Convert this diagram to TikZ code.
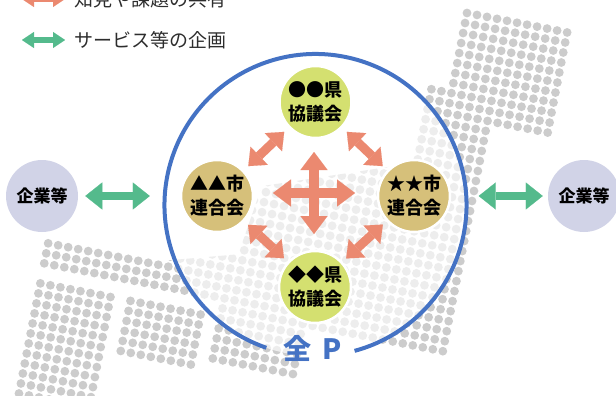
\documentclass[tikz,border=0pt]{standalone}
\usepackage{fontspec}
\setmainfont{Noto Sans CJK JP}
\usetikzlibrary{arrows.meta}
\definecolor{dotgray}{RGB}{204,204,204}
\definecolor{allblue}{RGB}{68,114,196}
\definecolor{orangearr}{RGB}{235,137,112}
\definecolor{greenarr}{RGB}{84,186,140}
\definecolor{kengreen}{RGB}{212,224,112}
\definecolor{shitan}{RGB}{214,192,122}
\definecolor{entlav}{RGB}{209,211,231}
\definecolor{legtext}{RGB}{45,45,45}
\begin{document}
\begin{tikzpicture}[x=1pt,y=-1pt,
  org/.style={circle, minimum size=72pt, inner sep=0pt, draw=white, line width=2.5pt,
    font=\bfseries\fontsize{18}{24}\selectfont, align=center, text=black},
  kenbox/.style={org, fill=kengreen},
  shibox/.style={org, fill=shitan},
  entbox/.style={org, fill=entlav, draw=none, font=\bfseries\fontsize{17}{20}\selectfont},
  oarr/.style={draw=orangearr, line width=9pt,
    {Triangle[width=25pt,length=15pt,line width=0.1pt]}-{Triangle[width=25pt,length=15pt,line width=0.1pt]}},
  xarr/.style={draw=orangearr, line width=10pt,
    {Triangle[width=27pt,length=18pt,line width=0.1pt]}-{Triangle[width=27pt,length=18pt,line width=0.1pt]}},
  garr/.style={draw=greenarr, line width=7.5pt,
    {Triangle[width=27pt,length=17pt,line width=0.1pt]}-{Triangle[width=27pt,length=17pt,line width=0.1pt]}},
  legarr/.style={line width=6pt,
    {Triangle[width=16pt,length=12pt,line width=0.1pt]}-{Triangle[width=16pt,length=12pt,line width=0.1pt]}},
  legtxt/.style={anchor=west, inner sep=0pt, text=legtext, font=\fontsize{19}{22}\selectfont}
]
\useasboundingbox (0,0) rectangle (616,396);

% background dot pattern
\begin{scope}[shift={(467pt,-13pt)}, x={(10.0126pt,-1.9463pt)}, y={(-1.9463pt,-10.0126pt)}]
  \clip (-0.5,-0.5) -- (10.5,-0.5) -- (10.5,10.5) -- (4.5,10.5) -- (4.5,33.5) -- (-9.5,33.5)
     -- (-9.5,38.5) -- (-18.5,38.5) -- (-18.5,32.5) -- (-36.5,32.5) -- (-36.5,29.5)
     -- (-24.5,29.5) -- (-17.5,27.5) -- (-16.5,20.5) -- (-2.5,15.5) -- (-2.5,7.5) -- (-0.5,7.5) -- cycle
     (-36.5,33.5) -- (-28.5,33.5) -- (-28.5,46.5) -- (-36.5,46.5) -- cycle
     (-27.5,33.5) -- (-19.5,33.5) -- (-19.5,39.5) -- (-27.5,39.5) -- cycle;
  \fill[dotgray] \foreach \i in {-37,...,10}{\foreach \j in {0,...,46}{(\i,\j) circle[radius=4.4pt]}};
\end{scope}

% main circle
\node[circle, minimum size=302pt, inner sep=0pt, fill=white, fill opacity=0.65] (allp) at (315.5,205) {};
\draw[allblue, line width=4pt] (allp.center) ++(109:151) arc[start angle=109, end angle=435, radius=151];
\node[text=allblue, font=\bfseries\fontsize{28}{30}\selectfont, inner sep=0pt] (allplabel) at (313,348) {全\hspace{11pt}P};

% member nodes
\node[kenbox] (ken1) at (315.5,102) {●●県\\協議会};
\node[shibox] (shi1) at (217,196) {▲▲市\\連合会};
\node[shibox] (shi2) at (414,196) {★★市\\連合会};
\node[kenbox] (ken2) at (315,287) {◆◆県\\協議会};

% enterprises
\node[entbox] (entL) at (42,196) {企業等};
\node[entbox] (entR) at (584,196) {企業等};

% orange connectors
\draw[oarr, shorten <=6pt, shorten >=6pt] (shi1) -- (ken1);
\draw[oarr, shorten <=6pt, shorten >=6pt] (ken1) -- (shi2);
\draw[oarr, shorten <=5pt, shorten >=5pt] (shi1) -- (ken2);
\draw[oarr, shorten <=5pt, shorten >=5pt] (ken2) -- (shi2);

% central cross
\coordinate (hubN) at (314,152);
\coordinate (hubS) at (314,234);
\coordinate (hubW) at (273,193);
\coordinate (hubE) at (355,193);
\draw[xarr] (hubN) -- (hubS);
\draw[xarr] (hubW) -- (hubE);

% green connectors
\draw[garr, shorten <=6pt, shorten >=14.5pt] (entL) -- (entL -| allp.west);
\draw[garr, shorten <=4pt, shorten >=12pt] (entR) -- (entR -| allp.east);

% legend
\coordinate (legOa) at (22,-1);
\coordinate (legOb) at (65,-1);
\coordinate (legGa) at (22,40);
\coordinate (legGb) at (65,40);
\draw[legarr, draw=orangearr] (legOa) -- (legOb);
\draw[legarr, draw=greenarr] (legGa) -- (legGb);
\node[legtxt] (legO) at (74,-1) {知見や課題の共有};
\node[legtxt] (legG) at (74,40) {サービス等の企画};
\end{tikzpicture}
\end{document}
